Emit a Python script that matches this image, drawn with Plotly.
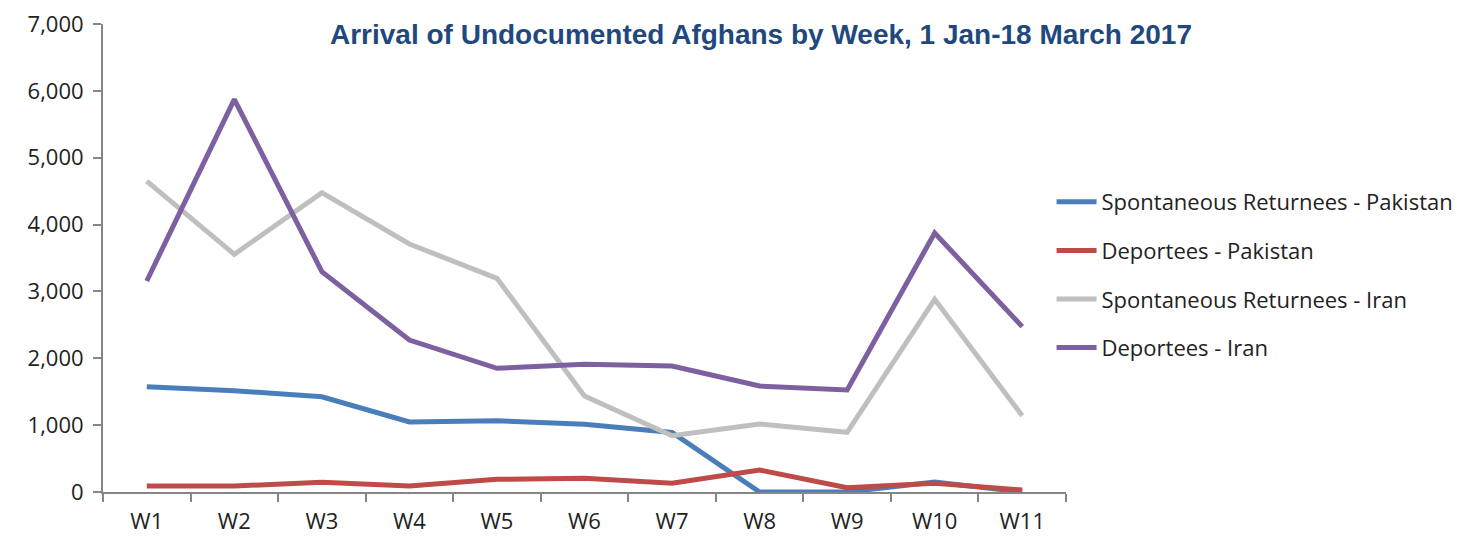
import plotly.graph_objects as go

weeks = ["W1", "W2", "W3", "W4", "W5", "W6", "W7", "W8", "W9", "W10", "W11"]
spont_pak = [1575, 1515, 1425, 1047, 1066, 1013, 890, 0, 0, 150, 0]
deport_pak = [90, 90, 145, 90, 190, 205, 130, 329, 65, 130, 30]
spont_iran = [4650, 3555, 4477, 3709, 3196, 1436, 842, 1017, 893, 2882, 1141]
deport_iran = [3156, 5873, 3295, 2273, 1850, 1910, 1885, 1585, 1525, 3874, 2473]

series = [
    ("Spontaneous Returnees - Pakistan", spont_pak, "#4A7EBB"),
    ("Deportees - Pakistan", deport_pak, "#BE4B48"),
    ("Spontaneous Returnees - Iran", spont_iran, "#BFBFBF"),
    ("Deportees - Iran", deport_iran, "#7D60A0"),
]

fig = go.Figure()
for i, (name, vals, col) in enumerate(series):
    fig.add_trace(go.Scatter(x=weeks, y=vals, name=name, mode="lines",
                             line=dict(color=col, width=5),
                             legendgroup=f"g{i}"))

# page body has an 8px margin, so the figure is 8px smaller and margins shifted
W, H = 1473, 530
fig.update_layout(
    width=W, height=H,
    margin=dict(l=95, r=415, t=16, b=46, autoexpand=False),
    paper_bgcolor="white", plot_bgcolor="white",
    font=dict(family="Open Sans", color="#222222"),
    title=dict(text="<b>Arrival of Undocumented Afghans by Week, 1 Jan-18 March 2017</b>",
               x=753 / W, xanchor="center", y=1 - 26 / H, yanchor="middle",
               font=dict(family="Liberation Sans", size=28, color="#1F497D")),
    showlegend=True,
    legend=dict(x=0.985, xanchor="left", y=(484 - 173) / 468, yanchor="top",
                font=dict(family="Open Sans", size=22, color="#222222"),
                tracegroupgap=17, bgcolor="rgba(0,0,0,0)", itemwidth=40),
    xaxis=dict(showgrid=False, showline=True, linecolor="#868686", linewidth=2,
               ticks="outside", ticklen=8, tickcolor="#868686", tickwidth=2,
               tickson="boundaries", tickfont=dict(size=22, color="#222222"),
               ticklabelstandoff=9, range=[-0.5, 10.5], zeroline=False,
               automargin=False, ticklabeloverflow="allow"),
    yaxis=dict(range=[0, 7000], dtick=1000, tickformat=",", showgrid=False,
               showline=True, linecolor="#868686", linewidth=2,
               ticks="outside", ticklen=8, tickcolor="#868686", tickwidth=2,
               tickfont=dict(size=22, color="#222222"), ticklabelstandoff=5,
               zeroline=False, automargin=False, ticklabeloverflow="allow"),
)

fig.write_html("out.html")
